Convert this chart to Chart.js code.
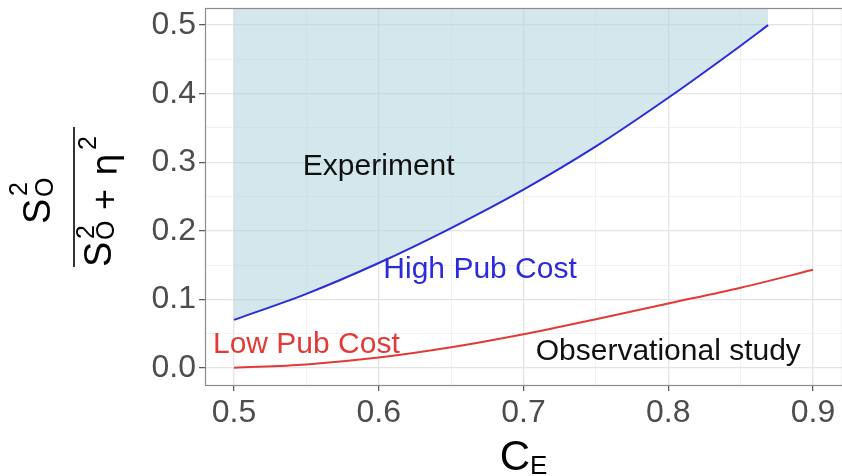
<!DOCTYPE html>
<html>
<head>
<meta charset="utf-8">
<script src="https://cdn.jsdelivr.net/npm/chart.js@4.4.1/dist/chart.umd.min.js"></script>
<style>
  html, body { margin: 0; padding: 0; background: #ffffff; }
  #wrap { width: 842px; height: 476px; position: relative; }
  canvas { display: block; }
</style>
</head>
<body>
<div id="wrap"><canvas id="chart" width="842" height="476"></canvas></div>
<script>
// Threshold curves: share of variance above which experiments pay off
const cEHigh = [0.50, 0.55, 0.60, 0.65, 0.70, 0.75, 0.80, 0.85, 0.869];
const highPubCost = [0.070, 0.108, 0.153, 0.204, 0.260, 0.323, 0.394, 0.470, 0.500];

const cELow = [0.50, 0.55, 0.60, 0.65, 0.70, 0.75, 0.80, 0.85, 0.90];
const lowPubCost = [0.000, 0.005, 0.015, 0.030, 0.049, 0.071, 0.094, 0.117, 0.143];

// Axis ticks (major carry labels, minor only grid lines)
const xMajorTicks = [0.5, 0.6, 0.7, 0.8, 0.9];
const xMinorTicks = [0.55, 0.65, 0.75, 0.85];
const yMajorTicks = [0.0, 0.1, 0.2, 0.3, 0.4, 0.5];
const yMinorTicks = [0.05, 0.15, 0.25, 0.35, 0.45];
const xLimits = [0.48, 0.92];
const yLimits = [-0.025, 0.525];

// Region annotations in data coordinates
const regionText = ['Experiment', 'High Pub Cost', 'Low Pub Cost', 'Observational study'];
const regionX = [0.60, 0.67, 0.55, 0.80];
const regionY = [0.30, 0.15, 0.04, 0.03];

const BLUE = '#2b2bdc';
const RED = '#e23a36';
const regionColor = ['#111111', BLUE, RED, '#111111'];

const FONT = '"Liberation Sans", Arial, Helvetica, sans-serif';

const isMajor = (v, list) => list.some(m => Math.abs(m - v) < 1e-9);
const toPoints = (xs, ys) => xs.map((x, i) => ({ x: x, y: ys[i] }));

function tickSetter(major, minor) {
  return function (scale) {
    scale.ticks = major.concat(minor).sort((a, b) => a - b).map(v => ({ value: v }));
  };
}

const panelDecor = {
  id: 'panelDecor',
  afterDatasetsDraw(chart) {
    const ctx = chart.ctx;
    const xs = chart.scales.x, ys = chart.scales.y;
    const a = chart.chartArea;
    ctx.save();
    // region labels, centred on their anchor (text box incl. descenders)
    ctx.textAlign = 'center';
    ctx.textBaseline = 'alphabetic';
    ctx.font = '30px ' + FONT;
    regionText.forEach((t, i) => {
      ctx.fillStyle = regionColor[i];
      ctx.fillText(t, xs.getPixelForValue(regionX[i]), ys.getPixelForValue(regionY[i]) + 13);
    });
    // panel border
    ctx.strokeStyle = '#8c8c8c';
    ctx.lineWidth = 1.2;
    ctx.strokeRect(a.left + 0.5, a.top + 0.5, a.right - a.left, a.bottom - a.top);
    ctx.restore();
  },
  afterDraw(chart) {
    const ctx = chart.ctx;
    const a = chart.chartArea;
    ctx.save();
    ctx.fillStyle = '#000000';
    ctx.textAlign = 'left';
    ctx.textBaseline = 'alphabetic';

    // x-axis title: C with subscript E, centred under the panel
    const cx = (a.left + a.right) / 2;
    ctx.font = '42px ' + FONT;
    const wC = ctx.measureText('C').width;
    ctx.font = '26px ' + FONT;
    const wE = ctx.measureText('E').width;
    const x0 = cx - (wC + wE) / 2;
    ctx.font = '42px ' + FONT;
    ctx.fillText('C', x0, 470);
    ctx.font = '26px ' + FONT;
    ctx.fillText('E', x0 + wC, 474);

    // y-axis title: S_O^2 / (S_O^2 + eta^2), rotated a quarter turn
    ctx.rotate(-Math.PI / 2);
    // numerator
    ctx.font = '38px ' + FONT;
    ctx.fillText('S', -224, 50);
    ctx.font = '25px ' + FONT;
    ctx.fillText('2', -196, 27);
    ctx.fillText('O', -197, 53);

    // denominator
    ctx.font = '38px ' + FONT;
    ctx.fillText('S', -267, 111);
    ctx.font = '25px ' + FONT;
    ctx.fillText('2', -239, 94);
    ctx.fillText('O', -240, 114);
    ctx.font = '36px ' + FONT;
    ctx.fillText('+', -210, 117);
    ctx.font = '36px "DejaVu Sans", ' + FONT;
    ctx.fillText('\u03b7', -176, 117);
    ctx.font = '25px ' + FONT;
    ctx.fillText('2', -150, 96);

    // fraction bar
    ctx.strokeStyle = '#000000';
    ctx.lineWidth = 1.6;
    ctx.beginPath();
    ctx.moveTo(-267, 74);
    ctx.lineTo(-127, 74);
    ctx.stroke();
    ctx.restore();
  }
};

function gridColor(list) {
  return c => (c.tick && isMajor(c.tick.value, list)) ? '#e4e4e4' : '#efefef';
}
function gridWidth(list) {
  return c => (c.tick && isMajor(c.tick.value, list)) ? 1.3 : 0.8;
}
function tickMarkColor(list) {
  return c => (c.tick && isMajor(c.tick.value, list)) ? '#555555' : 'rgba(0,0,0,0)';
}

new Chart(document.getElementById('chart'), {
  type: 'line',
  data: {
    datasets: [
      {
        label: 'High Pub Cost',
        data: toPoints(cEHigh, highPubCost),
        borderColor: BLUE,
        borderWidth: 2,
        pointRadius: 0,
        cubicInterpolationMode: 'monotone',
        fill: 'end',
        backgroundColor: 'rgba(168,208,220,0.5)'
      },
      {
        label: 'Low Pub Cost',
        data: toPoints(cELow, lowPubCost),
        borderColor: RED,
        borderWidth: 2,
        pointRadius: 0,
        cubicInterpolationMode: 'monotone',
        fill: false
      }
    ]
  },
  options: {
    responsive: false,
    animation: false,
    devicePixelRatio: 1,
    layout: { padding: { top: 8, right: 0, bottom: 0, left: 0 } },
    plugins: { legend: { display: false }, tooltip: { enabled: false } },
    scales: {
      x: {
        type: 'linear',
        min: xLimits[0],
        max: xLimits[1],
        afterBuildTicks: tickSetter(xMajorTicks, xMinorTicks),
        afterFit: s => { s.height = 91; s.paddingLeft = 0; s.paddingRight = 0; },
        border: { display: false },
        grid: {
          color: gridColor(xMajorTicks),
          lineWidth: gridWidth(xMajorTicks),
          tickColor: tickMarkColor(xMajorTicks),
          tickLength: 6,
          tickWidth: 1.2
        },
        ticks: {
          autoSkip: false,
          maxRotation: 0,
          padding: 3,
          color: '#4d4d4d',
          font: { family: FONT, size: 32 },
          callback: v => isMajor(v, xMajorTicks) ? v.toFixed(1) : ''
        }
      },
      y: {
        type: 'linear',
        min: yLimits[0],
        max: yLimits[1],
        afterBuildTicks: tickSetter(yMajorTicks, yMinorTicks),
        afterFit: s => { s.width = 205; s.paddingTop = 0; s.paddingBottom = 0; },
        border: { display: false },
        grid: {
          color: gridColor(yMajorTicks),
          lineWidth: gridWidth(yMajorTicks),
          tickColor: tickMarkColor(yMajorTicks),
          tickLength: 6,
          tickWidth: 1.2
        },
        ticks: {
          autoSkip: false,
          padding: 3,
          color: '#4d4d4d',
          font: { family: FONT, size: 32 },
          callback: v => isMajor(v, yMajorTicks) ? v.toFixed(1) : ''
        }
      }
    }
  },
  plugins: [panelDecor]
});
</script>
</body>
</html>
